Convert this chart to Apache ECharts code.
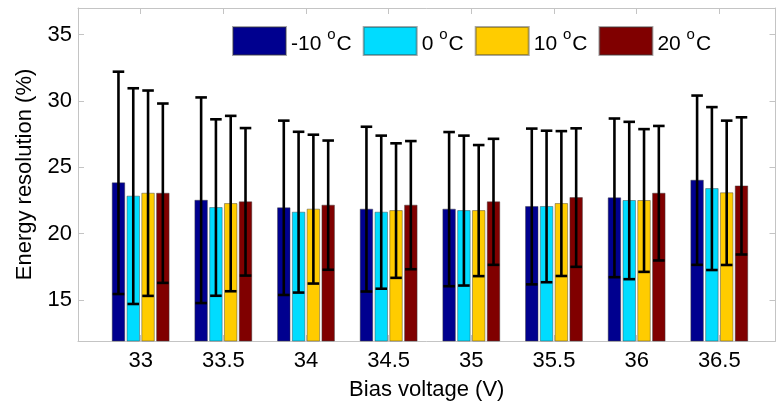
<!DOCTYPE html>
<html>
<head>
<meta charset="utf-8">
<script src="https://cdn.jsdelivr.net/npm/echarts@6/dist/echarts.min.js"></script>
<style>
html,body{margin:0;padding:0;background:#fff;}
#chart{width:776px;height:409px;}
</style>
</head>
<body>
<div id="chart"></div>
<script>
// Bias voltage categories (V)
var categories = [33, 33.5, 34, 34.5, 35, 35.5, 36, 36.5];
var yTicks = [15, 20, 25, 30, 35];
var temps = ['-10', '0', '10', '20'];
// Energy resolution (%) and error
var resM10 = [23.82, 22.51, 21.94, 21.84, 21.84, 22.04, 22.69, 24.02];
var errM10 = [8.38, 7.75, 6.57, 6.21, 5.81, 5.87, 5.98, 6.38];
var res0   = [22.82, 21.96, 21.61, 21.61, 21.73, 22.04, 22.49, 23.39];
var err0   = [8.13, 6.65, 6.06, 5.77, 5.65, 5.71, 5.93, 6.14];
var res10  = [23.04, 22.26, 21.84, 21.73, 21.73, 22.26, 22.49, 23.07];
var err10  = [7.74, 6.61, 5.61, 5.07, 4.94, 5.46, 5.38, 5.44];
var res20  = [23.04, 22.39, 22.14, 22.14, 22.39, 22.71, 23.04, 23.59];
var err20  = [6.76, 5.56, 4.87, 4.83, 4.75, 5.22, 5.07, 5.17];

var seriesVals = [resM10, res0, res10, res20];
var seriesErrs = [errM10, err0, err10, err20];
var colors = ['#00008f', '#00dcff', '#ffcc00', '#800000'];

var X_MIN = 32.621, X_MAX = 36.84, Y_MIN = 11.9, Y_MAX = 37;
var PITCH = 0.0895, BAR_W = 0.0756, CAP_W = 0.07;
var FONT = 'Liberation Sans, Arial, sans-serif';
var AXIS_C = '#c4c4c4';

function makeSeries(k) {
  var data = categories.map(function (c, i) { return [c, seriesVals[k][i], seriesErrs[k][i]]; });
  return {
    type: 'custom',
    name: temps[k] + ' °C',
    itemStyle: { color: colors[k], borderColor: 'rgba(60,60,60,0.45)', borderWidth: 1 },
    data: data,
    encode: { x: 0, y: 1 },
    clip: false,
    renderItem: function (params, api) {
      var x = api.value(0) + (k - 1.5) * PITCH;
      var v = api.value(1), e = api.value(2);
      var pL = api.coord([x - BAR_W / 2, v]);
      var pR = api.coord([x + BAR_W / 2, Y_MIN]);
      var pc = api.coord([x, v]);
      var pTop = api.coord([x, v + e]);
      var pBot = api.coord([x, v - e]);
      var cL = api.coord([x - CAP_W / 2, v])[0];
      var cR = api.coord([x + CAP_W / 2, v])[0];
      var ls = { stroke: '#000', lineWidth: 2.6 };
      return {
        type: 'group',
        children: [
          { type: 'rect', shape: { x: pL[0], y: pL[1], width: pR[0] - pL[0], height: pR[1] - pL[1] },
            style: { fill: colors[k], stroke: 'rgba(60,60,60,0.45)', lineWidth: 1 } },
          { type: 'line', shape: { x1: pc[0], y1: pTop[1], x2: pc[0], y2: pBot[1] }, style: ls },
          { type: 'line', shape: { x1: cL, y1: pTop[1], x2: cR, y2: pTop[1] }, style: ls },
          { type: 'line', shape: { x1: cL, y1: pBot[1], x2: cR, y2: pBot[1] }, style: ls }
        ]
      };
    }
  };
}

var chart = echarts.init(document.getElementById('chart'), null, { renderer: 'canvas' });
chart.setOption({
  animation: false,
  backgroundColor: '#fff',
  textStyle: { fontFamily: FONT },
  grid: { left: 78, right: 0.5, top: 8, bottom: 68, containLabel: false },
  legend: {
    left: 232, top: 26, padding: 0,
    itemWidth: 53, itemHeight: 28, itemGap: 11,
    icon: 'rect',
    data: temps.map(function (t) { return t + ' °C'; }),
    formatter: function (name) { return '{t|' + name.replace(' °C', '') + ' }{s|o}{t|C}'; },
    textStyle: {
      fontFamily: FONT, fontSize: 21, color: '#000',
      rich: {
        t: { fontFamily: FONT, fontSize: 21, color: '#000', lineHeight: 28, verticalAlign: 'bottom' },
        s: { fontFamily: FONT, fontSize: 15, color: '#000', lineHeight: 28, verticalAlign: 'top', padding: [0, 1, 0, 0] }
      }
    }
  },
  xAxis: [{
    type: 'value', min: X_MIN, max: X_MAX, position: 'bottom',
    name: 'Bias voltage (V)', nameLocation: 'middle', nameGap: 38,
    nameTextStyle: { fontFamily: FONT, fontSize: 22, color: '#000' },
    splitLine: { show: false },
    axisLine: { show: true, lineStyle: { color: AXIS_C, width: 1 } },
    axisTick: { show: true, inside: true, length: 6, customValues: categories, lineStyle: { color: AXIS_C } },
    axisLabel: { show: true, customValues: categories, fontFamily: FONT, fontSize: 22, color: '#000', margin: 9,
      formatter: function (v) { return String(v); } }
  }, {
    type: 'value', min: X_MIN, max: X_MAX, position: 'top',
    splitLine: { show: false },
    axisLine: { show: true, lineStyle: { color: AXIS_C, width: 1 } },
    axisTick: { show: true, inside: true, length: 6, customValues: categories, lineStyle: { color: AXIS_C } },
    axisLabel: { show: false }
  }],
  yAxis: [{
    type: 'value', min: Y_MIN, max: Y_MAX, position: 'left',
    name: 'Energy resolution (%)', nameLocation: 'middle', nameGap: 42,
    nameTextStyle: { fontFamily: FONT, fontSize: 22, color: '#000' },
    splitLine: { show: false },
    axisLine: { show: true, lineStyle: { color: AXIS_C, width: 1 } },
    axisTick: { show: true, inside: true, length: 6, customValues: yTicks, lineStyle: { color: AXIS_C } },
    axisLabel: { show: true, customValues: yTicks, fontFamily: FONT, fontSize: 22, color: '#000', margin: 6 }
  }, {
    type: 'value', min: Y_MIN, max: Y_MAX, position: 'right',
    splitLine: { show: false },
    axisLine: { show: true, lineStyle: { color: AXIS_C, width: 1 } },
    axisTick: { show: true, inside: true, length: 6, customValues: yTicks, lineStyle: { color: AXIS_C } },
    axisLabel: { show: false }
  }],
  series: [0, 1, 2, 3].map(makeSeries)
});
</script>
</body>
</html>
